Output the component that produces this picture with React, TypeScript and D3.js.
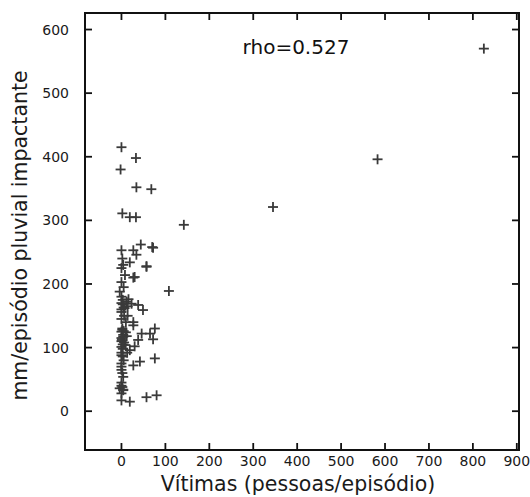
import React, { useEffect, useRef } from 'react';
import * as d3 from 'd3';

// Vítimas (pessoas/episódio) vs mm/episódio pluvial impactante
const vitimas = [
  825, 583, 345, 142, 108,
  0, 33, -2, 34, 68, 2, 19, 33,
  0, 27, 44, 70, 34, 72,
  4, 19, 57, 8, 27, 0, 30, 57,
  -4, 23, 38, 49, 0, 27, 27, 76, 46, 65, 72, 38, 30, 0, 19, 76, 42, 27, 0, 4, -4,
  0, 19, 57, 80,
  2, 0, 5, 0, 3, 0, 0, 6, 0, 2, 0, 4, 0, 0, 3, 0, 0, 5, 0, 0, 2, 0, 0, 4, 0,
  12, 16, 14, 10, 12, 9, 13, 10, 14,
  3, 5, 2, 4, 6, 3, 1, 5, 2, 4, 7, 3
];
const chuva = [
  570, 396, 321, 293, 189,
  415, 398, 380, 352, 349, 311, 305, 305,
  253, 253, 262, 258, 246, 257,
  230, 234, 228, 214, 210, 203, 211, 227,
  188, 169, 167, 159, 156, 140, 135, 130, 122, 122, 113, 112, 102, 101, 96, 83, 78, 72, 70, 54, 36,
  17, 15, 22, 25,
  240, 225, 195, 180, 175, 170, 160, 150, 145, 130, 125, 120, 115, 110, 105, 92, 88, 80, 75, 65, 60, 45, 40, 33, 28,
  172, 176, 150, 140, 118, 104, 92, 124, 165,
  168, 163, 128, 117, 108, 98, 112, 126, 38, 34, 162, 86
];
const xTicks = [0, 100, 200, 300, 400, 500, 600, 700, 800, 900];
const yTicks = [0, 100, 200, 300, 400, 500, 600];
const rhoLabel = 'rho=0.527';

const W = 530, H = 497;
const L = 85, R = 519, T = 13, B = 450;

export default function App() {
  const ref = useRef<SVGSVGElement>(null);

  useEffect(() => {
    const svg = d3.select(ref.current);
    svg.selectAll('*').remove();

    const x = d3.scaleLinear().domain([-83, 905]).range([L, R]);
    const y = d3.scaleLinear().domain([-61, 626]).range([B, T]);
    const font = 'DejaVu Sans, Verdana, sans-serif';
    const tl = 7;

    // points as "+" markers
    const pts = vitimas.map((v, i) => ({ x: v, y: chuva[i] }));
    const g = svg.append('g').attr('stroke', '#3a3a3a').attr('stroke-width', 1.8);
    pts.forEach(p => {
      const px = x(p.x), py = y(p.y);
      g.append('line').attr('x1', px - 5).attr('x2', px + 5).attr('y1', py).attr('y2', py);
      g.append('line').attr('x1', px).attr('x2', px).attr('y1', py - 5).attr('y2', py + 5);
    });

    // ticks (inward, all four sides)
    const ax = svg.append('g').attr('stroke', '#111').attr('stroke-width', 1.8);
    xTicks.forEach(t => {
      ax.append('line').attr('x1', x(t)).attr('x2', x(t)).attr('y1', B).attr('y2', B - tl);
      ax.append('line').attr('x1', x(t)).attr('x2', x(t)).attr('y1', T).attr('y2', T + tl);
    });
    yTicks.forEach(t => {
      ax.append('line').attr('x1', L).attr('x2', L + tl).attr('y1', y(t)).attr('y2', y(t));
      ax.append('line').attr('x1', R).attr('x2', R - tl).attr('y1', y(t)).attr('y2', y(t));
    });
    svg.append('rect').attr('x', L).attr('y', T).attr('width', R - L).attr('height', B - T)
      .attr('fill', 'none').attr('stroke', '#111').attr('stroke-width', 2);

    // tick labels
    svg.append('g').selectAll('text').data(xTicks).enter().append('text')
      .attr('x', d => x(d)).attr('y', B + 16).attr('text-anchor', 'middle')
      .attr('font-family', font).attr('font-size', 14).attr('fill', '#1a1a1a')
      .text(d => d);
    svg.append('g').selectAll('text').data(yTicks).enter().append('text')
      .attr('x', L - 16).attr('y', d => y(d) + 5).attr('text-anchor', 'end')
      .attr('font-family', font).attr('font-size', 14).attr('fill', '#1a1a1a')
      .text(d => d);

    // titles
    svg.append('text').attr('x', 298).attr('y', 491).attr('text-anchor', 'middle')
      .attr('font-family', font).attr('font-size', 20.5).attr('fill', '#1a1a1a')
      .text('Vítimas (pessoas/episódio)');
    svg.append('text').attr('transform', `translate(27,${(T + B) / 2 + 4}) rotate(-90)`)
      .attr('text-anchor', 'middle')
      .attr('font-family', font).attr('font-size', 20.5).attr('fill', '#1a1a1a')
      .text('mm/episódio pluvial impactante');

    svg.append('text').attr('x', 296).attr('y', 54).attr('text-anchor', 'middle')
      .attr('font-family', font).attr('font-size', 20).attr('fill', '#111')
      .text(rhoLabel);
  }, []);

  return (
    <svg ref={ref} width={W} height={H}
      style={{ position: 'absolute', left: 0, top: 0, background: '#fff' }} />
  );
}
